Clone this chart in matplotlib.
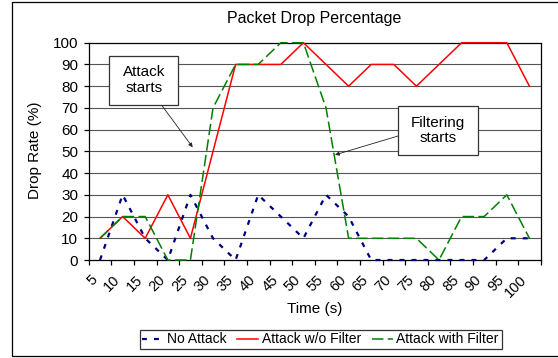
import numpy as np
import matplotlib
matplotlib.use('Agg')
import matplotlib.pyplot as plt
from matplotlib.patches import Rectangle
from matplotlib.lines import Line2D

###############################################################################
# Plot style
###############################################################################
plt.rcParams['font.family'] = ['Liberation Sans', 'DejaVu Sans']
plt.rcParams['axes.edgecolor'] = '#000000'
plt.rcParams['axes.linewidth'] = 0.9
plt.rcParams['xtick.color'] = '#000000'
plt.rcParams['ytick.color'] = '#000000'

#-----------------------------------------------------------------------------
# Data
#-----------------------------------------------------------------------------
times = [5, 10, 15, 20, 25, 30, 35, 40, 45, 50,
         55, 60, 65, 70, 75, 80, 85, 90, 95, 100]
no_attack = [0, 30, 10, 0, 30, 10, 0, 30, 20, 10,
             30, 20, 0, 0, 0, 0, 0, 0, 10, 10]
attack_no_filter = [10, 20, 10, 30, 10, 50, 90, 90, 90, 100,
                    90, 80, 90, 90, 80, 90, 100, 100, 100, 80]
attack_filter = [10, 20, 20, 0, 0, 70, 90, 90, 100, 100,
                 70, 10, 10, 10, 10, 0, 20, 20, 30, 10]
yticks = [0, 10, 20, 30, 40, 50, 60, 70, 80, 90, 100]

x = np.arange(len(times))

fig = plt.figure(figsize=(5.58, 3.58), dpi=100)
ax = fig.add_axes([0.159, 0.2737, 0.810, 0.607])

# gridlines behind the data
for yv in yticks[1:-1]:
    ax.axhline(yv, color='#555555', lw=0.8, zorder=1)

# the three series, same order as in the legend
ax.plot(x, no_attack, color='#000080', lw=1.6, dashes=(2.2, 3.2),
        label='No Attack', zorder=3, clip_on=False)
ax.plot(x, attack_no_filter, color='#FF0000', lw=1.1,
        label='Attack w/o Filter', zorder=3, clip_on=False)
ax.plot(x, attack_filter, color='#008000', lw=1.1, dashes=(7.5, 2.8),
        label='Attack with Filter', zorder=3, clip_on=False)

ax.set_xlim(-0.5, len(times) - 0.5)
ax.set_ylim(0, 100)

# ticks between categories, labels under the categories
ax.set_xticks(np.arange(len(times) + 1) - 0.5)
ax.set_xticklabels([])
ax.set_xticks(x, minor=True)
ax.set_xticklabels([str(t) for t in times], minor=True, rotation=45,
                   ha='right', va='top', fontsize=10.5)
ax.tick_params(axis='x', which='major', direction='out', length=3.6, width=0.9)
ax.tick_params(axis='x', which='minor', length=0, pad=9)
ax.set_yticks(yticks)
ax.tick_params(axis='y', direction='out', length=3.6, width=0.9, pad=4,
               labelsize=11)

# titles and axis labels
fig.text(314 / 558, 1 - 18 / 358, 'Packet Drop Percentage', fontsize=11.5,
         ha='center', va='center')
fig.text(35 / 558, 1 - 150 / 358, 'Drop Rate (%)', fontsize=11,
         rotation=90, ha='center', va='center')
fig.text(315 / 558, 1 - 309 / 358, 'Time (s)', fontsize=11,
         ha='center', va='center')

# callout boxes with arrows
ax.add_patch(Rectangle((0.41, 71.4), 3.05, 22.6, facecolor='white',
                       edgecolor='#333333', lw=0.9, zorder=5))
ax.text(1.935, 82.7, 'Attack\nstarts', fontsize=11, ha='center',
        va='center', zorder=6, linespacing=1.15)
ax.annotate('', xy=(4.1, 51.9), xytext=(2.73, 71.2),
            arrowprops=dict(arrowstyle='-|>', lw=0.6, color='#222222',
                            mutation_scale=6, shrinkA=0, shrinkB=0),
            zorder=6)

ax.add_patch(Rectangle((13.2, 48.1), 3.51, 22.9, facecolor='white',
                       edgecolor='#333333', lw=0.9, zorder=5))
ax.text(14.955, 59.6, 'Filtering\nstarts', fontsize=11, ha='center',
        va='center', zorder=6, linespacing=1.15)
ax.annotate('', xy=(10.4, 48.4), xytext=(13.2, 57.1),
            arrowprops=dict(arrowstyle='-|>', lw=0.6, color='#222222',
                            mutation_scale=6, shrinkA=0, shrinkB=0),
            zorder=6)

# legend box under the plot
leg = fig.legend(loc='center', bbox_to_anchor=(0.5745, 0.0517), ncol=3,
                 fontsize=10, frameon=True, fancybox=False, shadow=False,
                 handlelength=1.5, handletextpad=0.25, columnspacing=0.8,
                 borderpad=0.2, borderaxespad=0)
leg.get_frame().set_edgecolor('#000000')
leg.get_frame().set_linewidth(0.9)

# outer chart border (left, top, bottom; right edge is cut off)
xl = 12 / 558
yt = 1 - 2.3 / 358
yb = 1 - 355.5 / 358
fig.add_artist(Line2D([1.01, xl, xl, 1.01], [yt, yt, yb, yb],
                      transform=fig.transFigure, color='black', lw=0.9))

plt.savefig('out.png', dpi=100)
